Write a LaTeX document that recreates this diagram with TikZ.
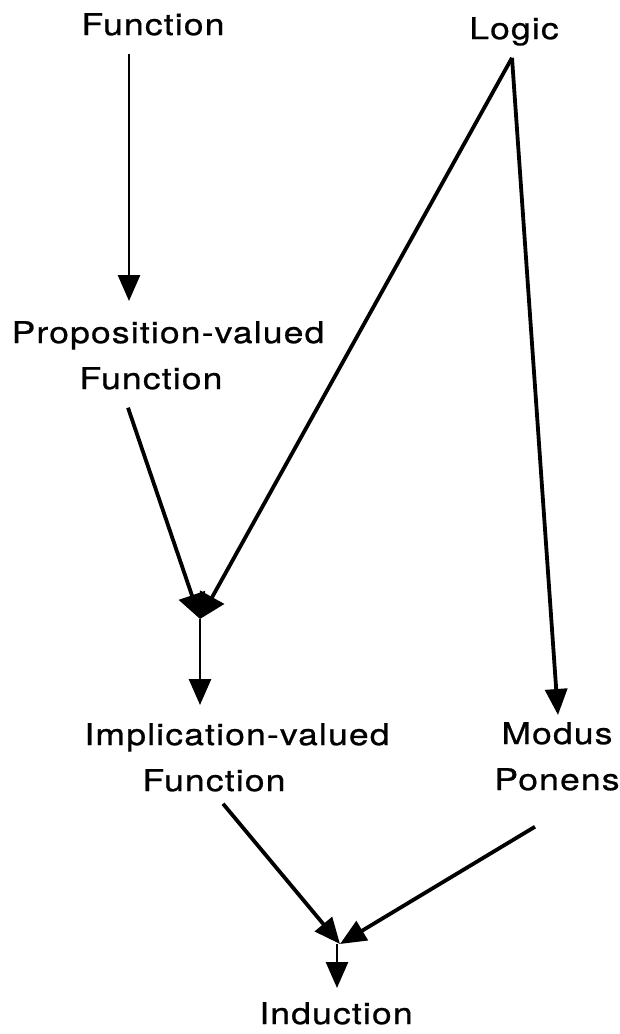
\documentclass[tikz,border=0pt]{standalone}
\usepackage{fontspec}
\newfontfamily\labfont{TeX Gyre Heros}[FakeStretch=1.18,LetterSpace=4,FakeBold=0.8]
\usetikzlibrary{arrows.meta}

\tikzset{
  lab/.style={inner sep=0pt, anchor=north, align=center,
    font=\labfont\fontsize{30}{46}\selectfont},
  link/.style={-{Triangle[length=26pt,width=22pt]}, line width=3.8pt},
  thin link/.style={link, line width=2.8pt},
  fan link/.style={-{Triangle[length=25pt,width=27pt]}, line width=3.8pt}
}

\begin{document}
\begin{tikzpicture}[x=1pt, y=-1pt]
\useasboundingbox (0,0) rectangle (620,1034);
\node[lab] (func) at (153,13) {Function};
\node[lab] (logic) at (514,17) {Logic};
\node[lab] (prop) at (168,321) {Proposition-valued\\\hspace*{-34pt}Function};
\node[lab] (impl) at (237,723) {Implication-valued\\\hspace*{-46pt}Function};
\node[lab] (modus) at (557,722) {Modus\\Ponens};
\node[lab] (induct) at (336,1002) {Induction};
\coordinate (j1) at (200,619);
\coordinate (j2) at (340,944);

\draw[thin link] ([xshift=-24pt,yshift=-18pt]func.south) -- ([xshift=-39pt,yshift=20pt]prop.north);
\draw[fan link] ([xshift=-40pt,yshift=-18pt]prop.south) -- (j1);
\draw[fan link] ([xshift=-2pt,yshift=-12pt]logic.south) -- (j1);
\draw[link] ([xshift=-2pt,yshift=-12pt]logic.south) -- ([xshift=1pt,yshift=7pt]modus.north);
\draw[thin link] (j1) -- ([xshift=-37pt,yshift=18pt]impl.north);
\draw[link] ([xshift=-14pt,yshift=-12pt]impl.south) -- (j2);
\draw[link] ([xshift=-22pt,yshift=-36pt]modus.south) -- (j2);
\draw[thin link] ([xshift=-3pt]j2) -- ([xshift=1pt,yshift=14pt]induct.north);
\end{tikzpicture}
\end{document}
